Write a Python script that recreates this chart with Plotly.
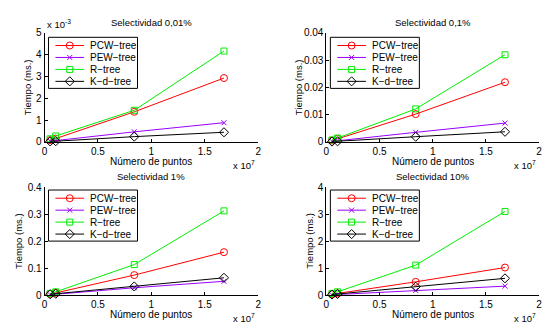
import plotly.graph_objects as go

W, H = 545, 329
FONT = "Liberation Sans, Arial, Helvetica, sans-serif"

# ---------------- data ----------------
puntos = [525000, 1050000, 8400000, 16800000]
series = ["PCW\u2212tree", "PEW\u2212tree", "R\u2212tree", "K\u2212d\u2212tree"]
titulos = ["Selectividad 0,01%", "Selectividad 0,1%", "Selectividad 1%", "Selectividad 10%"]

pcw_001 = [0.00008, 0.00015, 0.00138, 0.00293]
pew_001 = [0.00003, 0.00006, 0.00046, 0.00088]
r_001 = [0.00014, 0.00027, 0.00145, 0.00417]
kd_001 = [0.00002, 0.00003, 0.00024, 0.00044]

pcw_01 = [0.0005, 0.0011, 0.0102, 0.0219]
pew_01 = [0.0002, 0.0004, 0.0035, 0.0069]
r_01 = [0.0007, 0.0014, 0.0121, 0.0320]
kd_01 = [0.0001, 0.0002, 0.0019, 0.0037]

pcw_1 = [0.004, 0.008, 0.074, 0.159]
pew_1 = [0.0015, 0.003, 0.027, 0.051]
r_1 = [0.006, 0.012, 0.113, 0.312]
kd_1 = [0.003, 0.005, 0.032, 0.064]

pcw_10 = [0.03, 0.06, 0.49, 1.02]
pew_10 = [0.01, 0.02, 0.17, 0.33]
r_10 = [0.06, 0.12, 1.11, 3.10]
kd_10 = [0.02, 0.04, 0.31, 0.62]

x_tickvals = [0, 5e6, 1e7, 1.5e7, 2e7]
x_ticktext = ["0", "0.5", "1", "1.5", "2"]
y_tickvals_001 = [0, 0.001, 0.002, 0.003, 0.004, 0.005]
y_ticktext_001 = ["0", "1", "2", "3", "4", "5"]
y_tickvals_01 = [0, 0.01, 0.02, 0.03, 0.04]
y_ticktext_01 = ["0", "0.01", "0.02", "0.03", "0.04"]
y_tickvals_1 = [0, 0.1, 0.2, 0.3, 0.4]
y_ticktext_1 = ["0", "0.1", "0.2", "0.3", "0.4"]
y_tickvals_10 = [0, 1, 2, 3, 4]
y_ticktext_10 = ["0", "1", "2", "3", "4"]

paneles = [
    ([pcw_001, pew_001, r_001, kd_001], y_tickvals_001, y_ticktext_001),
    ([pcw_01, pew_01, r_01, kd_01], y_tickvals_01, y_ticktext_01),
    ([pcw_1, pew_1, r_1, kd_1], y_tickvals_1, y_ticktext_1),
    ([pcw_10, pew_10, r_10, kd_10], y_tickvals_10, y_ticktext_10),
]

# ---------------- styles / layout ----------------
colores = ["#ff0000", "#9a00ff", "#00ee00", "#000000"]
simbolos = ["circle-open", "x-thin-open", "square-open", "diamond-open"]
tamanos = [7, 5, 6, 7]

col_px = [(42, 258), (327, 542)]
row_px = [(28, 141), (188, 300)]
ylabel_x = [25, 299, 15, 309]
leg_left = [46, 331]
leg_top = [32.5, 191]
LEG_W, LEG_H = 90, 53

fig = go.Figure()
layout = dict(
    width=W, height=H,
    margin=dict(l=0, r=0, t=0, b=0),
    paper_bgcolor="white", plot_bgcolor="rgba(0,0,0,0)",
    showlegend=False,
    font=dict(family=FONT, size=10, color="black"),
)
annotations = []
shapes = []

for p, (vals, ytv, ytt) in enumerate(paneles):
    r, c = divmod(p, 2)
    k = p + 1
    xa, ya = ("x" if k == 1 else f"x{k}"), ("y" if k == 1 else f"y{k}")
    (x0, x1), (y0, y1) = col_px[c], row_px[r]
    for i, v in enumerate(vals):
        fig.add_trace(go.Scatter(
            x=puntos, y=v, xaxis=xa, yaxis=ya, mode="lines+markers",
            line=dict(color=colores[i], width=1),
            marker=dict(symbol=simbolos[i], size=tamanos[i], color=colores[i],
                        line=dict(color=colores[i], width=1)),
            name=series[i], showlegend=False, cliponaxis=False,
        ))
    axstyle = dict(showline=True, linecolor="black", linewidth=1, ticks="inside",
                   ticklen=3, tickcolor="black", tickwidth=1, showgrid=False,
                   zeroline=False, tickfont=dict(size=10, color="black", family=FONT))
    layout[f"xaxis{k}"] = dict(domain=[x0 / W, x1 / W], range=[0, 2e7], anchor=ya,
                               tickmode="array", tickvals=x_tickvals, ticktext=x_ticktext,
                               **axstyle)
    layout[f"yaxis{k}"] = dict(domain=[1 - y1 / H, 1 - y0 / H], range=[0, ytv[-1]], anchor=xa,
                               tickmode="array", tickvals=ytv, ticktext=ytt, **axstyle)
    cx = (x0 + x1) / 2
    annotations.append(dict(x=cx, y=y0 - 11, xref="x5", yref="y5", text=titulos[p],
                            showarrow=False, font=dict(size=9.5), xanchor="center", yanchor="middle"))
    annotations.append(dict(x=cx, y=y1 + 20, xref="x5", yref="y5", text="Número de puntos",
                            showarrow=False, font=dict(size=10), xanchor="center", yanchor="middle"))
    annotations.append(dict(x=x1 - 1, y=y1 + 24, xref="x5", yref="y5", text="x 10<sup>7</sup>",
                            showarrow=False, font=dict(size=9.5), xanchor="right", yanchor="middle"))
    annotations.append(dict(x=ylabel_x[p], y=(y0 + y1) / 2, xref="x5", yref="y5",
                            text="Tiempo (ms.)", textangle=-90, showarrow=False,
                            font=dict(size=9.5), xanchor="center", yanchor="middle"))
    # legend box
    bl, bt = leg_left[c], leg_top[r]
    shapes.append(dict(type="rect", xref="x5", yref="y5", x0=bl, x1=bl + LEG_W,
                       y0=bt, y1=bt + LEG_H, fillcolor="white",
                       line=dict(color="black", width=1), layer="below"))
    for i in range(4):
        ry = bt + 8.5 + 12.4 * i
        fig.add_trace(go.Scatter(x=[bl + 7, bl + 36], y=[ry, ry], xaxis="x5", yaxis="y5",
                                 mode="lines", line=dict(color=colores[i], width=1),
                                 showlegend=False, hoverinfo="skip"))
        fig.add_trace(go.Scatter(x=[bl + 21.5], y=[ry], xaxis="x5", yaxis="y5",
                                 mode="markers",
                                 marker=dict(symbol=simbolos[i], size=tamanos[i], color=colores[i],
                                             line=dict(color=colores[i], width=1)),
                                 showlegend=False, hoverinfo="skip"))
        annotations.append(dict(x=bl + 40, y=ry, xref="x5", yref="y5", text=series[i],
                                showarrow=False, font=dict(size=10), xanchor="left",
                                yanchor="middle"))

# y exponent label for first panel
annotations.append(dict(x=col_px[0][0], y=row_px[0][0] - 9, xref="x5", yref="y5",
                        text="x 10<sup>-3</sup>", showarrow=False, font=dict(size=9.5),
                        xanchor="left", yanchor="middle"))

layout["xaxis5"] = dict(domain=[0, 1], range=[0, W], visible=False, anchor="y5", fixedrange=True)
layout["yaxis5"] = dict(domain=[0, 1], range=[H, 0], visible=False, anchor="x5", fixedrange=True)
layout["annotations"] = annotations
layout["shapes"] = shapes
fig.update_layout(**layout)
fig.write_html("out.html", config={"displayModeBar": False},
               post_script="document.body.style.margin='0';document.body.style.overflow='hidden';")
